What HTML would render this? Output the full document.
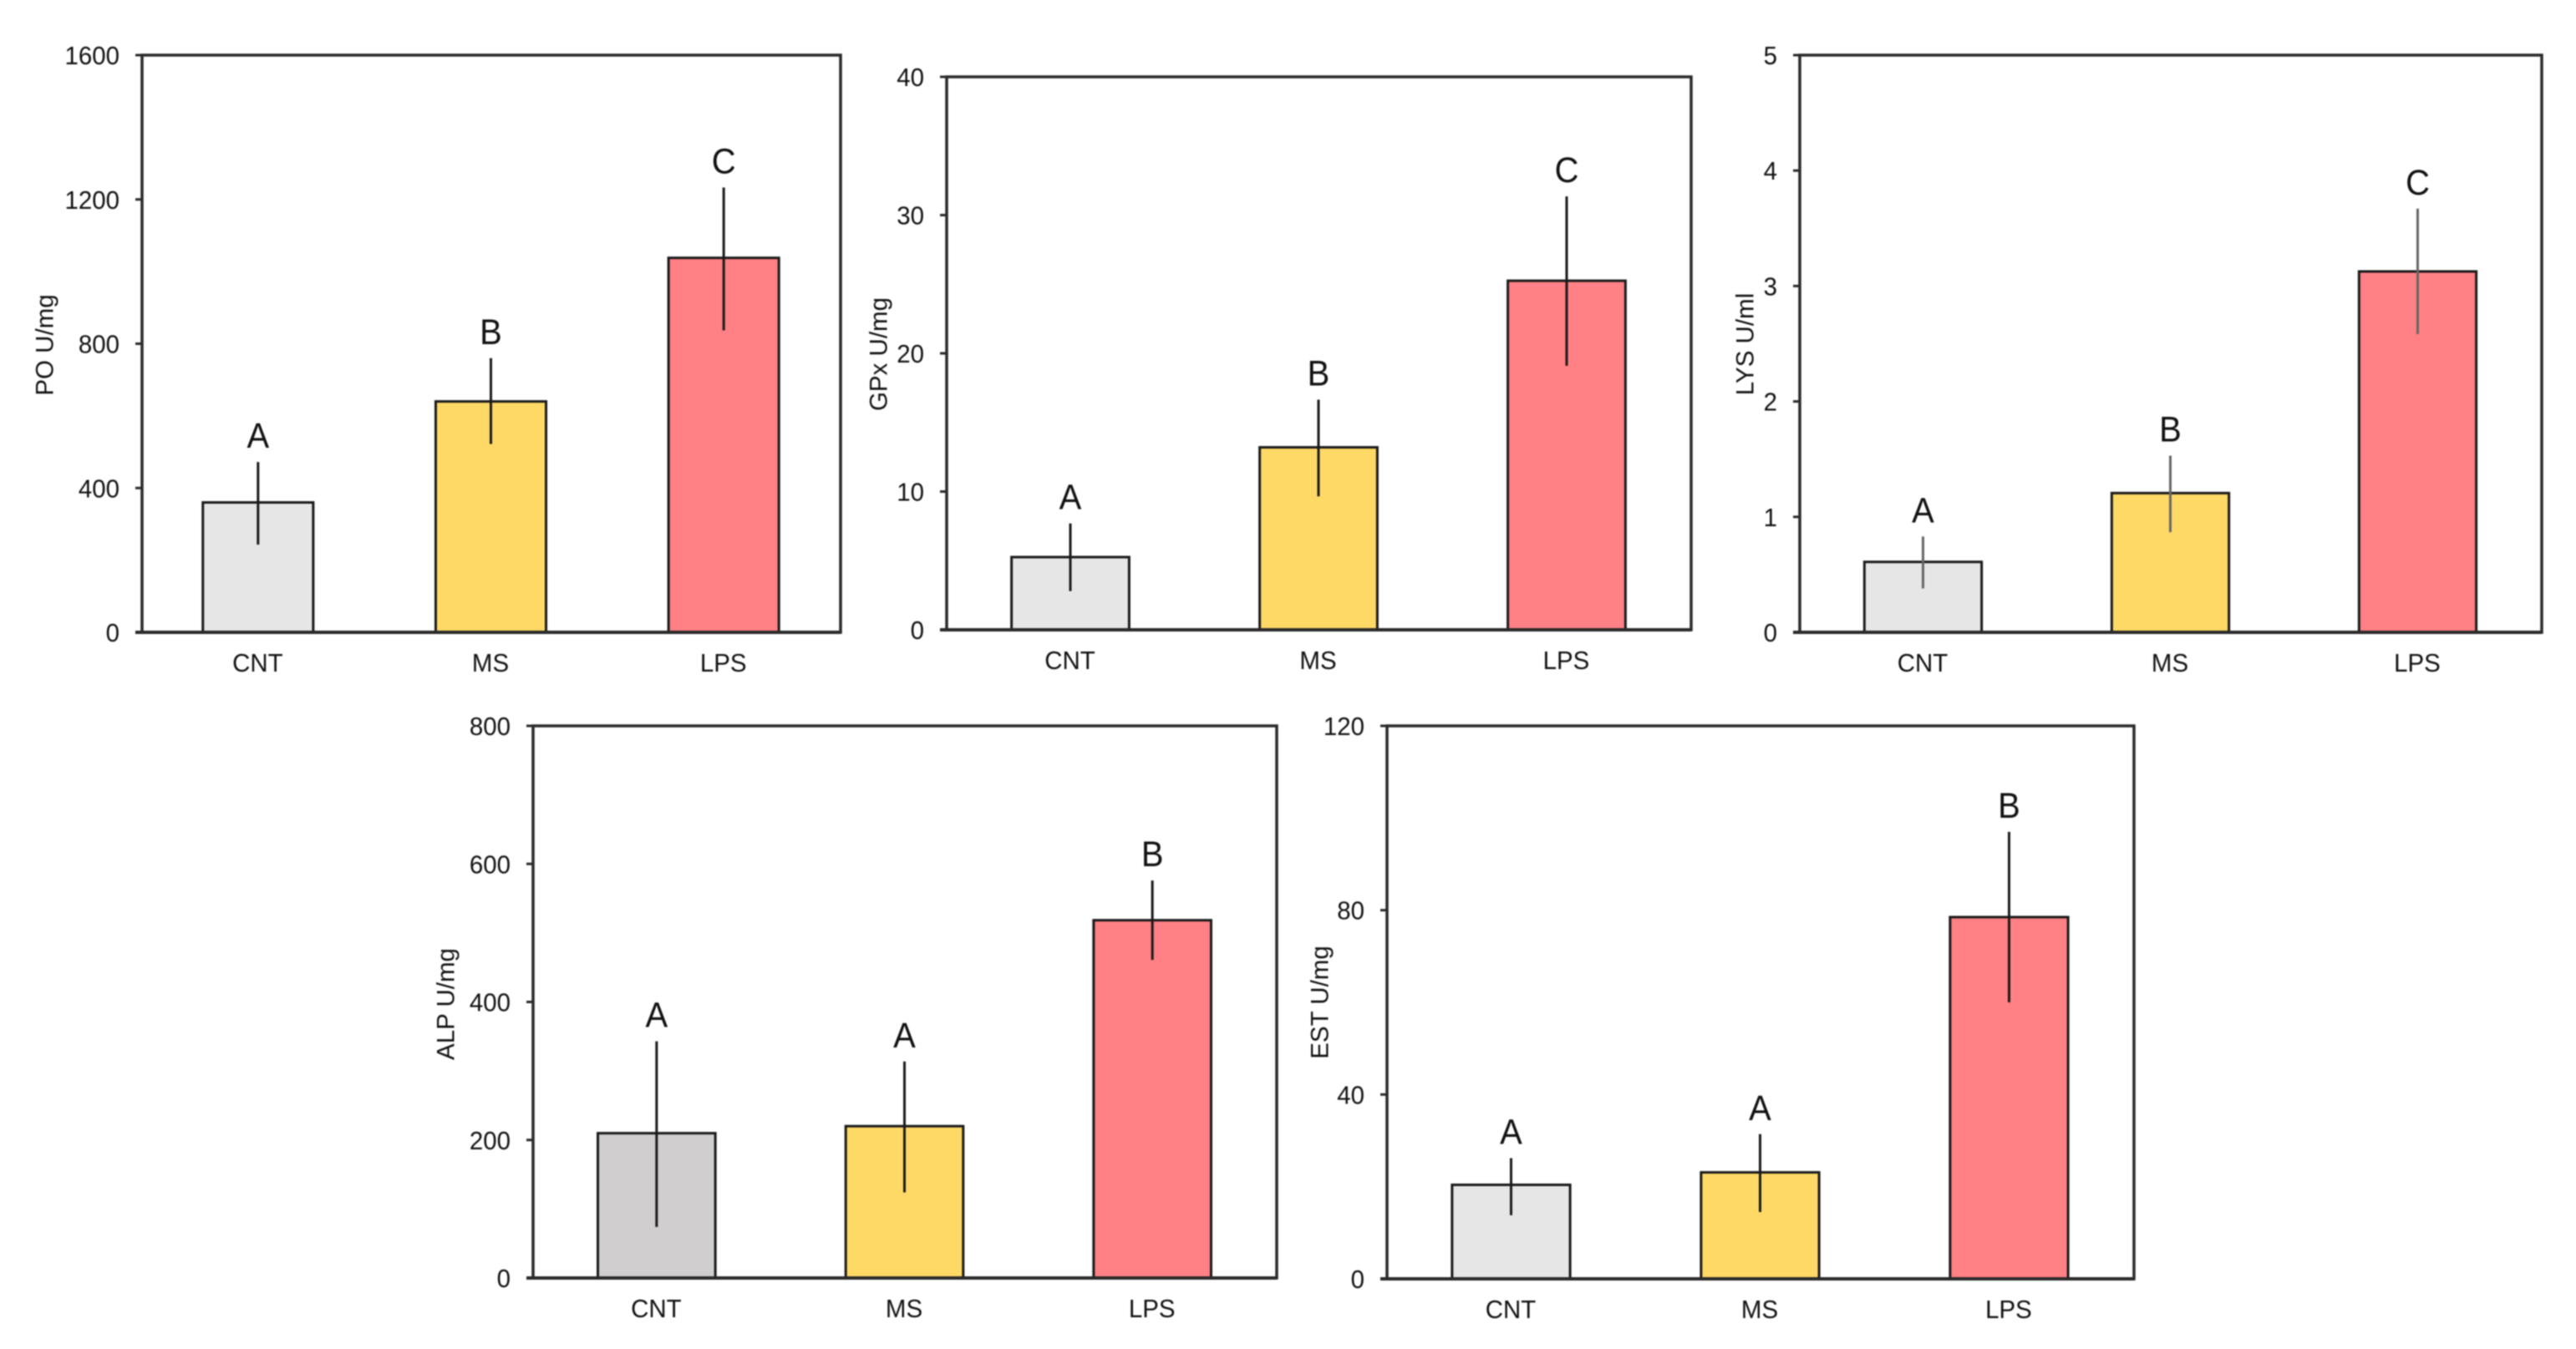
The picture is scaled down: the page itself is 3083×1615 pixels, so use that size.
<!DOCTYPE html>
<html lang="en">
<head>
<meta charset="utf-8">
<title>Enzyme activity bar charts</title>
<style>
  html, body { margin: 0; padding: 0; background: #fff; }
  body { width: 3083px; height: 1615px; overflow: hidden; }
  svg { display: block; filter: blur(0.9px); }
  text { font-family: "Liberation Sans", sans-serif; fill: #111; }
</style>
</head>
<body>
<svg id="figure" xmlns="http://www.w3.org/2000/svg" width="3083" height="1615" viewBox="0 0 3083 1615"></svg>
<script>
const categories = ['CNT', 'MS', 'LPS'];

const poMeans = [360, 640, 1038];
const poHigh = [472, 760, 1233];
const poLow = [243, 522, 837];
const poLetters = ['A', 'B', 'C'];
const poTicks = [0, 400, 800, 1200, 1600];

const gpxMeans = [5.26, 13.2, 25.25];
const gpxHigh = [7.7, 16.65, 31.35];
const gpxLow = [2.8, 9.65, 19.1];
const gpxLetters = ['A', 'B', 'C'];
const gpxTicks = [0, 10, 20, 30, 40];

const lysMeans = [0.61, 1.206, 3.126];
const lysHigh = [0.83, 1.53, 3.67];
const lysLow = [0.38, 0.867, 2.583];
const lysLetters = ['A', 'B', 'C'];
const lysTicks = [0, 1, 2, 3, 4, 5];

const alpMeans = [209.8, 220, 518.4];
const alpHigh = [343, 313.7, 576];
const alpLow = [74, 124, 461];
const alpLetters = ['A', 'A', 'B'];
const alpTicks = [0, 200, 400, 600, 800];

const estMeans = [20.4, 23.1, 78.5];
const estHigh = [26.2, 31.4, 97];
const estLow = [13.8, 14.5, 60];
const estLetters = ['A', 'A', 'B'];
const estTicks = [0, 40, 80, 120];

const panels = [
  { key: 'po', title: 'PO U/mg', means: poMeans, high: poHigh, low: poLow, letters: poLetters, ticks: poTicks,
    left: 170, right: 1006, top: 66, bottom: 757, titleX: 54, titleY: 413, cntFill: '#e7e6e6', errColor: '#1a1a1a' },
  { key: 'gpx', title: 'GPx U/mg', means: gpxMeans, high: gpxHigh, low: gpxLow, letters: gpxLetters, ticks: gpxTicks,
    left: 1133, right: 2024, top: 92, bottom: 754, titleX: 1052, titleY: 424, cntFill: '#e7e6e6', errColor: '#1a1a1a' },
  { key: 'lys', title: 'LYS U/ml', means: lysMeans, high: lysHigh, low: lysLow, letters: lysLetters, ticks: lysTicks,
    left: 2154, right: 3042, top: 66, bottom: 757, titleX: 2089, titleY: 412, cntFill: '#e7e6e6', errColor: '#666' },
  { key: 'alp', title: 'ALP U/mg', means: alpMeans, high: alpHigh, low: alpLow, letters: alpLetters, ticks: alpTicks,
    left: 638, right: 1528, top: 869, bottom: 1530, titleX: 534, titleY: 1202, cntFill: '#d0cece', errColor: '#1a1a1a' },
  { key: 'est', title: 'EST U/mg', means: estMeans, high: estHigh, low: estLow, letters: estLetters, ticks: estTicks,
    left: 1660, right: 2554, top: 869, bottom: 1531, titleX: 1580, titleY: 1200, cntFill: '#e7e6e6', errColor: '#1a1a1a' }
];

const SVG_NS = 'http://www.w3.org/2000/svg';
const figure = document.getElementById('figure');

function make(parent, tag, attrs, content) {
  const el = document.createElementNS(SVG_NS, tag);
  for (const name in attrs) {
    el.setAttribute(name, attrs[name]);
  }
  if (content !== undefined) {
    el.textContent = content;
  }
  parent.appendChild(el);
  return el;
}

function yAxis(panel) {
  const maxValue = panel.ticks[panel.ticks.length - 1];
  return value => panel.bottom - (value / maxValue) * (panel.bottom - panel.top);
}

function xBand(panel) {
  const plotWidth = panel.right - panel.left;
  return index => panel.left + ((index + 0.5) / categories.length) * plotWidth;
}

function squeezed(x, y, factor) {
  return 'translate(' + x + ' ' + y + ') scale(' + factor + ' 1)';
}

function drawPanel(panel) {
  const y = yAxis(panel);
  const x = xBand(panel);
  const barWidth = (panel.right - panel.left) * 0.158;
  const fills = [panel.cntFill, '#ffd966', '#ff8085'];

  const group = make(figure, 'g', {});
  
  

  const frame = make(group, 'rect', {
    x: panel.left, y: panel.top,
    width: panel.right - panel.left, height: panel.bottom - panel.top,
    fill: '#fff', stroke: '#2a2a2a', 'stroke-width': 3.5
  });
  
  

  panel.ticks.forEach(tick => {
    const mark = make(group, 'line', {
      x1: panel.left - 8, x2: panel.left,
      y1: y(tick), y2: y(tick),
      stroke: '#2a2a2a', 'stroke-width': 3
    });
    
    

    const label = make(group, 'text', {
      transform: squeezed(panel.left - 27, y(tick) + 11, 0.95),
      'text-anchor': 'end', 'font-size': 31
    }, String(tick));
    
    
  });

  const title = make(group, 'text', {
    x: panel.titleX, y: panel.titleY,
    transform: 'rotate(-90 ' + panel.titleX + ' ' + panel.titleY + ')',
    'text-anchor': 'middle', 'dominant-baseline': 'central', 'font-size': 29.5
  }, panel.title);
  
  

  categories.forEach((category, i) => {
    const slug = panel.key + '-' + category.toLowerCase();
    const bar = make(group, 'rect', {
      x: x(i) - barWidth / 2 - 0.5, y: y(panel.means[i]),
      width: barWidth, height: panel.bottom - y(panel.means[i]),
      fill: fills[i], stroke: '#1a1a1a', 'stroke-width': 3
    });
    
    

    const error = make(group, 'line', {
      x1: x(i) - 0.5, x2: x(i) - 0.5,
      y1: y(panel.high[i]), y2: y(panel.low[i]),
      stroke: panel.errColor, 'stroke-width': 3
    });
    
    

    const letter = make(group, 'text', {
      transform: squeezed(x(i) - 0.5, y(panel.high[i]) - 17, 0.93),
      'text-anchor': 'middle', 'font-size': 43, fill: '#000'
    }, panel.letters[i]);
    
    

    const label = make(group, 'text', {
      transform: squeezed(x(i) - 1, panel.bottom + 47, 0.95),
      'text-anchor': 'middle', 'font-size': 31
    }, category);
    
    
  });

  const baseline = make(group, 'line', {
    x1: panel.left - 8, x2: panel.right,
    y1: panel.bottom, y2: panel.bottom,
    stroke: '#2a2a2a', 'stroke-width': 4
  });
  
  
}

panels.forEach(drawPanel);
</script>
</body>
</html>
